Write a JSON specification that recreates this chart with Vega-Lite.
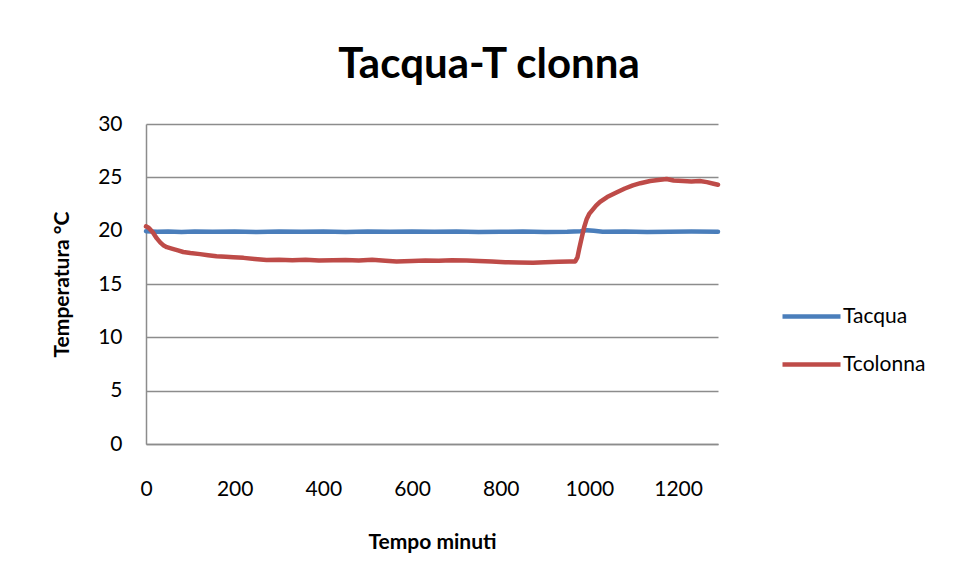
{
  "$schema": "https://vega.github.io/schema/vega-lite/v6.json",
  "width": 572,
  "height": 320,
  "autosize": {"type": "none"},
  "padding": {"left": 146, "top": 124, "right": 240, "bottom": 137},
  "background": "white",
  "title": {
    "text": "Tacqua-T clonna",
    "font": "Lato",
    "fontSize": 42,
    "fontWeight": "bold",
    "color": "black",
    "anchor": "middle",
    "dx": 57,
    "offset": 26
  },
  "data": {
    "values": [
      {"t": 0, "serie": "Tacqua", "temp": 19.95},
      {"t": 25, "serie": "Tacqua", "temp": 19.9},
      {"t": 50, "serie": "Tacqua", "temp": 19.92},
      {"t": 80, "serie": "Tacqua", "temp": 19.88},
      {"t": 110, "serie": "Tacqua", "temp": 19.93},
      {"t": 150, "serie": "Tacqua", "temp": 19.9},
      {"t": 200, "serie": "Tacqua", "temp": 19.92},
      {"t": 250, "serie": "Tacqua", "temp": 19.88},
      {"t": 300, "serie": "Tacqua", "temp": 19.92},
      {"t": 350, "serie": "Tacqua", "temp": 19.9},
      {"t": 400, "serie": "Tacqua", "temp": 19.93},
      {"t": 450, "serie": "Tacqua", "temp": 19.88},
      {"t": 500, "serie": "Tacqua", "temp": 19.92},
      {"t": 550, "serie": "Tacqua", "temp": 19.9},
      {"t": 600, "serie": "Tacqua", "temp": 19.93},
      {"t": 650, "serie": "Tacqua", "temp": 19.9},
      {"t": 700, "serie": "Tacqua", "temp": 19.92},
      {"t": 750, "serie": "Tacqua", "temp": 19.88},
      {"t": 800, "serie": "Tacqua", "temp": 19.9},
      {"t": 850, "serie": "Tacqua", "temp": 19.92},
      {"t": 900, "serie": "Tacqua", "temp": 19.88},
      {"t": 950, "serie": "Tacqua", "temp": 19.9},
      {"t": 980, "serie": "Tacqua", "temp": 19.95},
      {"t": 995, "serie": "Tacqua", "temp": 20.05},
      {"t": 1010, "serie": "Tacqua", "temp": 20.0},
      {"t": 1030, "serie": "Tacqua", "temp": 19.9},
      {"t": 1080, "serie": "Tacqua", "temp": 19.92},
      {"t": 1130, "serie": "Tacqua", "temp": 19.88},
      {"t": 1180, "serie": "Tacqua", "temp": 19.9},
      {"t": 1230, "serie": "Tacqua", "temp": 19.92},
      {"t": 1290, "serie": "Tacqua", "temp": 19.9},
      {"t": 0, "serie": "Tcolonna", "temp": 20.4},
      {"t": 5, "serie": "Tcolonna", "temp": 20.3},
      {"t": 10, "serie": "Tcolonna", "temp": 20.1},
      {"t": 16, "serie": "Tcolonna", "temp": 19.8},
      {"t": 24, "serie": "Tcolonna", "temp": 19.3},
      {"t": 32, "serie": "Tcolonna", "temp": 18.9},
      {"t": 40, "serie": "Tcolonna", "temp": 18.6},
      {"t": 47, "serie": "Tcolonna", "temp": 18.45},
      {"t": 60, "serie": "Tcolonna", "temp": 18.3},
      {"t": 72, "serie": "Tcolonna", "temp": 18.15},
      {"t": 84, "serie": "Tcolonna", "temp": 18.0},
      {"t": 100, "serie": "Tcolonna", "temp": 17.9},
      {"t": 122, "serie": "Tcolonna", "temp": 17.8},
      {"t": 140, "serie": "Tcolonna", "temp": 17.7},
      {"t": 159, "serie": "Tcolonna", "temp": 17.6},
      {"t": 180, "serie": "Tcolonna", "temp": 17.55},
      {"t": 197, "serie": "Tcolonna", "temp": 17.5},
      {"t": 220, "serie": "Tcolonna", "temp": 17.45},
      {"t": 245, "serie": "Tcolonna", "temp": 17.35},
      {"t": 272, "serie": "Tcolonna", "temp": 17.25},
      {"t": 300, "serie": "Tcolonna", "temp": 17.27},
      {"t": 330, "serie": "Tcolonna", "temp": 17.22},
      {"t": 360, "serie": "Tcolonna", "temp": 17.28},
      {"t": 390, "serie": "Tcolonna", "temp": 17.2},
      {"t": 422, "serie": "Tcolonna", "temp": 17.22},
      {"t": 450, "serie": "Tcolonna", "temp": 17.25},
      {"t": 480, "serie": "Tcolonna", "temp": 17.2},
      {"t": 510, "serie": "Tcolonna", "temp": 17.27},
      {"t": 540, "serie": "Tcolonna", "temp": 17.18},
      {"t": 565, "serie": "Tcolonna", "temp": 17.12},
      {"t": 600, "serie": "Tcolonna", "temp": 17.15},
      {"t": 630, "serie": "Tcolonna", "temp": 17.2},
      {"t": 660, "serie": "Tcolonna", "temp": 17.18},
      {"t": 690, "serie": "Tcolonna", "temp": 17.22},
      {"t": 723, "serie": "Tcolonna", "temp": 17.2},
      {"t": 750, "serie": "Tcolonna", "temp": 17.15},
      {"t": 780, "serie": "Tcolonna", "temp": 17.1},
      {"t": 810, "serie": "Tcolonna", "temp": 17.05},
      {"t": 840, "serie": "Tcolonna", "temp": 17.02},
      {"t": 873, "serie": "Tcolonna", "temp": 17.0},
      {"t": 900, "serie": "Tcolonna", "temp": 17.05},
      {"t": 930, "serie": "Tcolonna", "temp": 17.08},
      {"t": 955, "serie": "Tcolonna", "temp": 17.1},
      {"t": 968, "serie": "Tcolonna", "temp": 17.12},
      {"t": 973, "serie": "Tcolonna", "temp": 17.5},
      {"t": 977, "serie": "Tcolonna", "temp": 18.3},
      {"t": 983, "serie": "Tcolonna", "temp": 19.4},
      {"t": 988, "serie": "Tcolonna", "temp": 20.3},
      {"t": 994, "serie": "Tcolonna", "temp": 21.1},
      {"t": 1000, "serie": "Tcolonna", "temp": 21.6},
      {"t": 1008, "serie": "Tcolonna", "temp": 22.0},
      {"t": 1015, "serie": "Tcolonna", "temp": 22.35},
      {"t": 1024, "serie": "Tcolonna", "temp": 22.7},
      {"t": 1040, "serie": "Tcolonna", "temp": 23.15},
      {"t": 1062, "serie": "Tcolonna", "temp": 23.6},
      {"t": 1080, "serie": "Tcolonna", "temp": 23.95},
      {"t": 1098, "serie": "Tcolonna", "temp": 24.25},
      {"t": 1115, "serie": "Tcolonna", "temp": 24.45},
      {"t": 1137, "serie": "Tcolonna", "temp": 24.65},
      {"t": 1155, "serie": "Tcolonna", "temp": 24.75},
      {"t": 1174, "serie": "Tcolonna", "temp": 24.85},
      {"t": 1190, "serie": "Tcolonna", "temp": 24.7},
      {"t": 1211, "serie": "Tcolonna", "temp": 24.65},
      {"t": 1230, "serie": "Tcolonna", "temp": 24.6},
      {"t": 1249, "serie": "Tcolonna", "temp": 24.65},
      {"t": 1265, "serie": "Tcolonna", "temp": 24.55},
      {"t": 1280, "serie": "Tcolonna", "temp": 24.4},
      {"t": 1290, "serie": "Tcolonna", "temp": 24.3}
    ]
  },
  "mark": {"type": "line", "strokeWidth": 4.5, "strokeJoin": "round", "strokeCap": "round"},
  "encoding": {
    "x": {
      "field": "t",
      "type": "quantitative",
      "scale": {"domain": [0, 1290], "nice": false, "zero": false},
      "axis": {
        "title": "Tempo minuti",
        "values": [0, 200, 400, 600, 800, 1000, 1200],
        "format": "d",
        "grid": false,
        "ticks": false,
        "tickSize": 0,
        "labelPadding": 34,
        "titlePadding": 32,
        "labelFlush": false
      }
    },
    "y": {
      "field": "temp",
      "type": "quantitative",
      "scale": {"domain": [0, 30], "nice": false},
      "axis": {
        "title": "Temperatura °C",
        "values": [0, 5, 10, 15, 20, 25, 30],
        "grid": true,
        "ticks": false,
        "tickSize": 0,
        "labelPadding": 24,
        "titlePadding": 25
      }
    },
    "color": {
      "field": "serie",
      "type": "nominal",
      "scale": {"domain": ["Tacqua", "Tcolonna"], "range": ["#4A7EBB", "#BE4B48"]},
      "legend": {
        "title": null,
        "orient": "none",
        "legendX": 634,
        "legendY": 161,
        "symbolType": "stroke",
        "symbolSize": 3364,
        "symbolStrokeWidth": 4.5,
        "rowPadding": 6,
        "labelOffset": 0,
        "labelFont": "Lato",
        "labelFontSize": 21,
        "labelColor": "black",
        "padding": 0
      }
    }
  },
  "config": {
    "view": {"stroke": null},
    "axis": {
      "labelFont": "Lato",
      "labelFontSize": 21,
      "labelColor": "black",
      "titleFont": "Lato",
      "titleFontSize": 21,
      "titleFontWeight": "bold",
      "titleColor": "black",
      "domainColor": "#8c8c8c",
      "domainWidth": 1.5,
      "gridColor": "#8c8c8c",
      "gridWidth": 1.5,
      "gridOpacity": 1
    }
  }
}
